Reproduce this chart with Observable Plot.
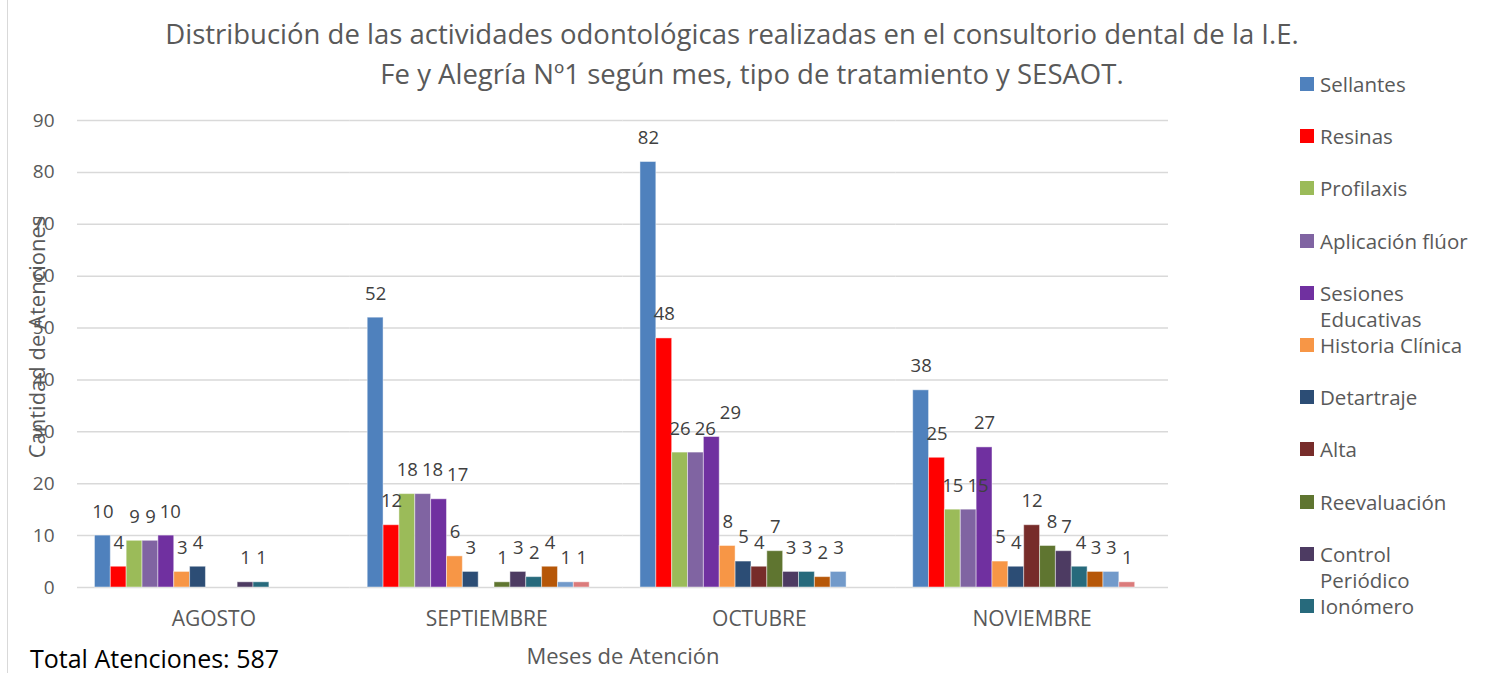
<!DOCTYPE html>
<html><head><meta charset="utf-8">
<script src="https://cdn.jsdelivr.net/npm/d3@7"></script>
<script src="https://cdn.jsdelivr.net/npm/@observablehq/plot@0.6"></script>
<style>
body{margin:0;background:#fff;}
#wrap{position:relative;width:1490px;height:673px;overflow:hidden;font-family:"Open Sans",sans-serif;color:#595959;}
#frame{position:absolute;left:7px;top:-1px;width:1500px;height:700px;border:1px solid #d9d9d9;box-sizing:border-box;}
#chart{position:absolute;left:0;top:0;}
.tl{position:absolute;top:14px;width:1400px;text-align:center;font-size:27.5px;line-height:40px;color:#595959;white-space:nowrap;}
#legend{position:absolute;left:1300px;top:0;}
.li{position:absolute;left:0;width:185px;font-size:20.5px;line-height:26.5px;color:#595959;}
.sw{position:absolute;left:0;top:6px;width:14px;height:14px;}
.lt{position:absolute;left:20px;top:0;width:160px;}
#total{position:absolute;left:30px;top:646px;font-size:25px;line-height:25px;color:#000;white-space:nowrap;}
g[aria-label="fx-axis tick label"]{font-size:21px;}
g[aria-label="fx-axis label"], g[aria-label="y-axis label"]{font-size:22px;}
</style>
</head><body>
<div id="wrap">
  <div id="frame"></div>
  <div id="chart"></div>
  <div class="tl" style="left:32px">Distribución de las actividades odontológicas realizadas en el consultorio dental de la I.E.</div>
  <div class="tl" style="left:52px;top:54px">Fe y Alegría Nº1 según mes, tipo de tratamiento y SESAOT.</div>
  <div id="legend"></div>
  <div id="total">Total Atenciones: 587</div>
</div>
<script>
const months = ["AGOSTO", "SEPTIEMBRE", "OCTUBRE", "NOVIEMBRE"];
const series = ["Sellantes", "Resinas", "Profilaxis", "Aplicación flúor", "Sesiones Educativas",
  "Historia Clínica", "Detartraje", "Alta", "Reevaluación", "Control Periódico", "Ionómero",
  "Serie 12", "Serie 13", "Serie 14", "Serie 15"];
const colors = ["#4F81BD", "#FF0000", "#9BBB59", "#8064A2", "#7030A0", "#F79646", "#2C4D75",
  "#772C2A", "#5F7530", "#4D3B62", "#276A7C", "#B65708", "#729ACA", "#DB7B7B", "#8EA9DB"];
const agosto     = [10,  4,  9,  9, 10, 3, 4,  0, 0, 1, 1, 0, 0, 0, 0];
const septiembre = [52, 12, 18, 18, 17, 6, 3,  0, 1, 3, 2, 4, 1, 1, 0];
const octubre    = [82, 48, 26, 26, 29, 8, 5,  4, 7, 3, 3, 2, 3, 0, 0];
const noviembre  = [38, 25, 15, 15, 27, 5, 4, 12, 8, 7, 4, 3, 3, 1, 0];
const yTicks = [0, 10, 20, 30, 40, 50, 60, 70, 80, 90];
const legendCount = 11;

const monthValues = [agosto, septiembre, octubre, noviembre];
const data = [];
months.forEach((m, i) => monthValues[i].forEach((v, j) => data.push({month: m, serie: series[j], value: v})));

const padIn = 0.128, padOut = 0.064;
const mL = 77, mR = 322;
const plotW = 1490 - mL - mR;
const step = plotW / (months.length - padIn + 2 * padOut);
const gapHalf = step * padOut;

const plot = Plot.plot({
  width: 1490, height: 673,
  marginLeft: mL, marginRight: mR, marginTop: 120, marginBottom: 86,
  style: {fontFamily: "'Open Sans', sans-serif", fontSize: "19px", color: "#595959", background: "transparent", overflow: "visible"},
  fx: {domain: months, paddingInner: padIn, paddingOuter: padOut, round: false, axis: "bottom", tickSize: 0, tickPadding: 24,
       label: "Meses de Atención", labelAnchor: "center", labelOffset: 76},
  x: {domain: series, padding: 0, round: false, axis: null},
  y: {domain: [0, 90], ticks: yTicks, tickSize: 0, tickPadding: 23 + gapHalf,
      label: "Cantidad de Atenciones", labelAnchor: "center", labelOffset: 66, labelArrow: "none"},
  color: {domain: series, range: colors},
  marks: [
    Plot.ruleY(yTicks, {y: d => d, stroke: "#d9d9d9", strokeWidth: 1.5, insetLeft: -gapHalf, insetRight: -gapHalf}),
    Plot.barY(data, {fx: "month", x: "serie", y: "value", fill: "serie", stroke: "white", strokeOpacity: 0.45, strokeWidth: 1}),
    Plot.text(data.filter(d => d.value > 0), {fx: "month", x: "serie", y: "value", text: d => String(d.value),
      dy: -24, fill: "#404040", fontSize: 18.5})
  ]
});
document.getElementById("chart").appendChild(plot);

// lift the y-axis title slightly, as in the reference
const yLabel = plot.querySelector('g[aria-label="y-axis label"]');
if (yLabel) yLabel.setAttribute("transform", "translate(0,-17) " + (yLabel.getAttribute("transform") || ""));

// nudge overlapping data labels to the right, like the spreadsheet's label placement
plot.querySelectorAll('g[aria-label="text"] > g, g[aria-label="text"]').forEach(g => {
  const texts = Array.from(g.children).filter(n => n.tagName === "text");
  const placed = [];
  texts.forEach(t => {
    let shift = 0;
    for (let iter = 0; iter < 5; iter++) {
      const r = t.getBoundingClientRect();
      let need = 0;
      placed.forEach(p => {
        if (r.left < p.right + 4 && r.right > p.left && r.top < p.bottom - 3 && r.bottom > p.top + 3) {
          need = Math.max(need, p.right + 4 - r.left);
        }
      });
      if (need <= 0) break;
      shift += need;
      const base = t.getAttribute("data-base") ?? (t.getAttribute("transform") || "");
      t.setAttribute("data-base", base);
      t.setAttribute("transform", base + ` translate(${shift},0)`);
    }
    placed.push(t.getBoundingClientRect());
  });
});

const legend = document.getElementById("legend");
series.slice(0, legendCount).forEach((s, i) => {
  const item = document.createElement("div");
  item.className = "li";
  item.style.top = (84 + i * 52.2 - 13) + "px";
  item.innerHTML = `<div class="sw" style="background:${colors[i]}"></div><div class="lt">${s}</div>`;
  legend.appendChild(item);
});
</script>
</body></html>
